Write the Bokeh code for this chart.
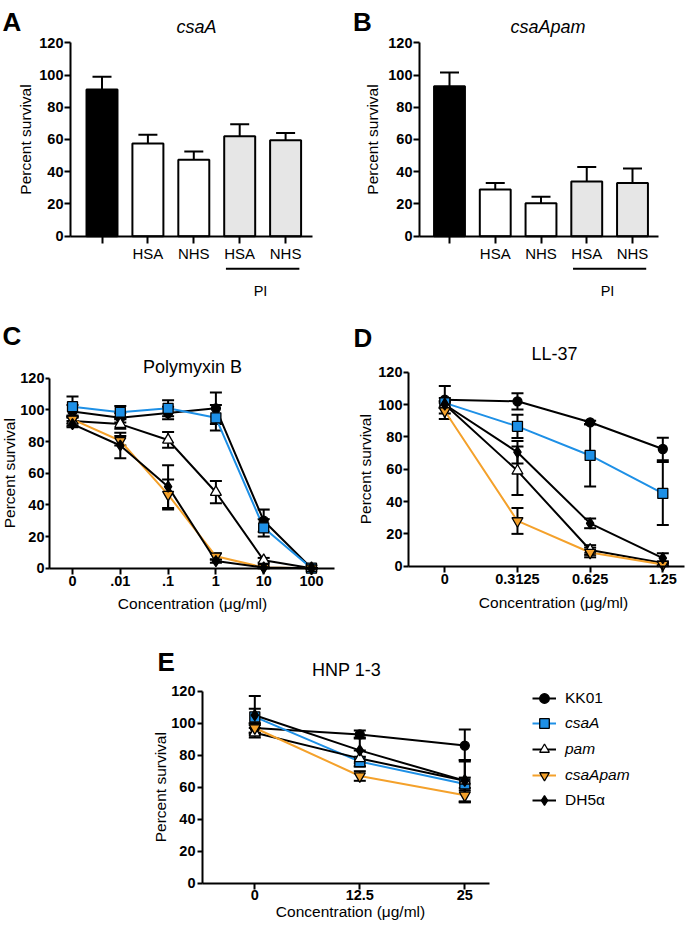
from bokeh.plotting import figure
from bokeh.models import (Range1d, FixedTicker, Label, Whisker, TeeHead,
                          ColumnDataSource, Legend, LegendItem)
from bokeh.layouts import column, row
from bokeh.embed import file_html
from bokeh.resources import INLINE

FONT = "Liberation Sans"
BLUE = "#1E90E6"
ORANGE = "#F4A12B"
PI_GRAY = "#E6E6E6"

# ---------------- data ----------------
y_ticks = [0, 20, 40, 60, 80, 100, 120]

# Panels A / B (bar charts)
bar_labels = ["", "HSA", "NHS", "HSA", "NHS"]
bar_fills = ["black", "white", "white", PI_GRAY, PI_GRAY]
pi_bars = [3, 4]
csaA_mean = [91, 57.5, 47.5, 62, 59.5]
csaA_sd = [8, 5.5, 5, 7.5, 4.5]
csaApam_mean = [93, 29, 20.5, 34, 33]
csaApam_sd = [8.5, 4, 4, 9, 9]

# strains (legend)
strains = ["KK01", "csaA", "pam", "csaApam", "DH5α"]
strain_line = ["black", BLUE, "black", ORANGE, "black"]
strain_marker = ["circle", "square", "triangle", "inverted_triangle", "diamond"]
strain_fill = ["black", BLUE, "white", ORANGE, "black"]
strain_size = [9, 10, 11, 11, 11]
strain_italic = [False, True, True, True, False]

# Panel C: Polymyxin B
pmb_conc = ["0", ".01", ".1", "1", "10", "100"]
pmb_KK01 = [99, 95, 98, 101, 30, 0]
pmb_KK01_sd = [4, 3, 4, 10, 7, 0]
pmb_csaA = [102, 98.5, 101, 95, 25.5, 0]
pmb_csaA_sd = [6.5, 4, 5, 8, 5.5, 0]
pmb_pam = [93, 91, 81, 48, 5, 0]
pmb_pam_sd = [3, 3, 5, 7, 1.5, 0]
pmb_csaApam = [94, 80.5, 46.5, 7.5, 0.5, 0]
pmb_csaApam_sd = [2.5, 3, 9.5, 2, 0.5, 0]
pmb_DH5a = [91, 77.5, 51.5, 4.5, 0.5, 0]
pmb_DH5a_sd = [2, 8, 13.5, 1, 0.5, 0]

# Panel D: LL-37
ll37_conc = ["0", "0.3125", "0.625", "1.25"]
ll37_KK01 = [103, 102, 89, 72.5]
ll37_KK01_sd = [8.5, 5, 1, 7]
ll37_csaA = [101, 86.5, 68.5, 45]
ll37_csaA_sd = [3, 7.2, 19.2, 19.5]
ll37_pam = [100, 59, 10, 2]
ll37_pam_sd = [2, 15, 3, 1]
ll37_csaApam = [96, 28, 8.5, 1]
ll37_csaApam_sd = [5, 8, 3, 1]
ll37_DH5a = [100, 70.5, 26.5, 5]
ll37_DH5a_sd = [2, 7, 3, 3]

# Panel E: HNP 1-3
hnp_conc = ["0", "12.5", "25"]
hnp_KK01 = [97, 93, 86]
hnp_KK01_sd = [3, 2.5, 10]
hnp_csaA = [104, 76, 62]
hnp_csaA_sd = [5, 3, 4]
hnp_pam = [94, 78, 64]
hnp_pam_sd = [3, 5, 13]
hnp_csaApam = [97, 67, 55]
hnp_csaApam_sd = [3, 3, 4.5]
hnp_DH5a = [105, 83, 64]
hnp_DH5a_sd = [12, 8, 13]


# ---------------- helpers ----------------
def make_panel(ox, oy, W, H, FL, FR, x0, dx, Y0, ky, labels, x_bold, x_size,
               ytick_out, ystandoff, xtick_out, xstandoff):
    """Frame covers the whole figure; both axes are placed with fixed_location."""
    xr = ((ox - x0) / dx, (ox + W - x0) / dx)
    yr = ((Y0 - (oy + H)) / ky, (Y0 - oy) / ky)
    p = figure(width=W, height=H, x_range=Range1d(*xr), y_range=Range1d(*yr),
               output_backend="svg", toolbar_location=None, title=None,
               min_border_left=0, min_border_right=0,
               min_border_top=0, min_border_bottom=0)
    p.grid.visible = False
    p.outline_line_color = None
    x_axis_pos = (FL - x0) / dx
    x_axis_end = (FR - x0) / dx

    yax = p.yaxis[0]
    yax.fixed_location = x_axis_pos
    yax.bounds = (0, 120)
    yax.ticker = FixedTicker(ticks=y_ticks)
    yax.axis_line_width = 2
    yax.axis_line_color = "black"
    yax.major_tick_line_width = 2
    yax.major_tick_out = ytick_out
    yax.major_tick_in = 0
    yax.minor_tick_line_color = None
    yax.major_label_standoff = ystandoff
    yax.major_label_text_font = FONT
    yax.major_label_text_font_size = "14.5px"
    yax.major_label_text_font_style = "bold"
    yax.major_label_text_color = "black"

    xax = p.xaxis[0]
    xax.fixed_location = 0
    xax.bounds = (x_axis_pos, x_axis_end)
    xax.ticker = FixedTicker(ticks=list(range(len(labels))))
    xax.major_label_overrides = {i: t for i, t in enumerate(labels)}
    xax.axis_line_width = 2
    xax.axis_line_color = "black"
    xax.major_tick_line_width = 2
    xax.major_tick_out = xtick_out
    xax.major_tick_in = 0
    xax.minor_tick_line_color = None
    xax.major_label_standoff = xstandoff
    xax.major_label_text_font = FONT
    xax.major_label_text_font_size = x_size
    xax.major_label_text_font_style = "bold" if x_bold else "normal"
    xax.major_label_text_color = "black"

    def conv(rx, ry):
        return (rx - x0) / dx, (Y0 - ry) / ky
    return p, conv


def add_text(p, conv, rx, ry, text, size, style="normal", align="center",
             baseline="alphabetic"):
    x, y = conv(rx, ry)
    p.add_layout(Label(x=x, y=y, text=text, text_font=FONT, text_font_size=size,
                       text_font_style=style, text_align=align,
                       text_baseline=baseline, text_color="black"))


def add_ylabel(p, conv, rx):
    x, _ = conv(rx, 0)
    p.add_layout(Label(x=x, y=60, text="Percent survival", text_font=FONT,
                       text_font_size="15.5px", text_align="center",
                       text_baseline="middle", angle=90, angle_units="deg",
                       text_color="black"))


def bar_panel(p, conv, means, sds, title, title_rx, letter, letter_rx, ylab_rx,
              pi_rx):
    xs = list(range(len(means)))
    src = ColumnDataSource(dict(x=xs, lo=means,
                                hi=[m + s for m, s in zip(means, sds)]))
    p.add_layout(Whisker(source=src, base="x", lower="lo", upper="hi",
                         dimension="height", line_color="black", line_width=2,
                         upper_head=TeeHead(size=19, line_width=2, line_color="black"),
                         lower_head=None, level="underlay"))
    p.vbar(x=xs, top=means, bottom=0, width=0.675, fill_color=bar_fills,
           line_color="black", line_width=2)
    # PI bracket under the last two bars
    _, y_line = conv(0, 268.3)
    p.line(x=[pi_bars[0] - 0.3, pi_bars[-1] + 0.3], y=[y_line, y_line],
           line_color="black", line_width=2)
    add_text(p, conv, pi_rx, 290, "PI", "14.5px")
    add_text(p, conv, title_rx, 26.5, title, "18px", style="italic")
    add_text(p, conv, letter_rx, 21.5, letter, "26px", style="bold", align="left")
    add_ylabel(p, conv, ylab_rx)


def draw_series(p, n, series, sds):
    xs = list(range(n))
    lines, marks = [], []
    for i in range(len(series)):
        lines.append(p.line(xs, series[i], line_color=strain_line[i], line_width=2))
    for i in range(len(series)):
        src = ColumnDataSource(dict(
            x=xs,
            lo=[m - s for m, s in zip(series[i], sds[i])],
            hi=[m + s for m, s in zip(series[i], sds[i])]))
        p.add_layout(Whisker(source=src, base="x", lower="lo", upper="hi",
                             dimension="height", line_color="black", line_width=2,
                             upper_head=TeeHead(size=12, line_width=2, line_color="black"),
                             lower_head=TeeHead(size=12, line_width=2, line_color="black"),
                             level="underlay"))
    for i in range(len(series)):
        marks.append(p.scatter(xs, series[i], marker=strain_marker[i],
                               size=strain_size[i], fill_color=strain_fill[i],
                               line_color="black", line_width=1.3))
    return lines, marks


# ---------------- Panel A ----------------
pA, cA = make_panel(0, 0, 350, 308, 70, 312, 101.5, 45.9, 235.7, 1.6117,
                    bar_labels, False, "15px", 6, 1, 7, 2)
bar_panel(pA, cA, csaA_mean, csaA_sd, "csaA", 196, "A", 2, 25, 260)

# ---------------- Panel B ----------------
pB, cB = make_panel(350, 0, 350, 308, 419, 658, 449, 45.75, 235.7, 1.6117,
                    bar_labels, False, "15px", 6, 1, 7, 2)
bar_panel(pB, cB, csaApam_mean, csaApam_sd, "csaApam", 547.5, "B", 352.5, 371.5, 607)

# ---------------- Panel C ----------------
pC, cC = make_panel(0, 308, 350, 312, 49, 334, 72, 47.8, 567.7, 1.5833,
                    pmb_conc, True, "14.5px", 4, 1, 6, 2)
draw_series(pC, len(pmb_conc),
            [pmb_KK01, pmb_csaA, pmb_pam, pmb_csaApam, pmb_DH5a],
            [pmb_KK01_sd, pmb_csaA_sd, pmb_pam_sd, pmb_csaApam_sd, pmb_DH5a_sd])
add_text(pC, cC, 192, 366, "Polymyxin B", "18px")
add_text(pC, cC, 2, 335, "C", "26px", style="bold", align="left")
add_text(pC, cC, 192, 603, "Concentration (μg/ml)", "15.5px", baseline="middle")
add_ylabel(pC, cC, 9)

# ---------------- Panel D ----------------
pD, cD = make_panel(350, 308, 350, 312, 408, 684, 444.3, 72.67, 565.7, 1.6167,
                    ll37_conc, True, "14.5px", 5, 1, 6, 2)
draw_series(pD, len(ll37_conc),
            [ll37_KK01, ll37_csaA, ll37_pam, ll37_csaApam, ll37_DH5a],
            [ll37_KK01_sd, ll37_csaA_sd, ll37_pam_sd, ll37_csaApam_sd, ll37_DH5a_sd])
add_text(pD, cD, 554, 353.3, "LL-37", "18px")
add_text(pD, cD, 353, 337.7, "D", "26px", style="bold", align="left")
add_text(pD, cD, 553, 602, "Concentration (μg/ml)", "15.5px", baseline="middle")
add_ylabel(pD, cD, 365)

# ---------------- Panel E ----------------
E_OY, E_H = 620, 304
pE, cE = make_panel(0, E_OY, 700, E_H, 202, 489, 254.3, 105, 882.7, 1.6,
                    hnp_conc, True, "14.5px", 5, 2, 6, 1)
lines_E, marks_E = draw_series(
    pE, len(hnp_conc),
    [hnp_KK01, hnp_csaA, hnp_pam, hnp_csaApam, hnp_DH5a],
    [hnp_KK01_sd, hnp_csaA_sd, hnp_pam_sd, hnp_csaApam_sd, hnp_DH5a_sd])
add_text(pE, cE, 346, 669, "HNP 1-3", "18px")
add_text(pE, cE, 157, 661.5, "E", "26px", style="bold", align="left")
add_text(pE, cE, 350, 911, "Concentration (μg/ml)", "15.5px", baseline="middle")
add_ylabel(pE, cE, 160)

# legend (one Legend per entry so that italics can differ)
for i, name in enumerate(strains):
    cy = 697.5 + 25.7 * i
    leg = Legend(items=[LegendItem(label=name, renderers=[lines_E[i], marks_E[i]])],
                 location=(532, E_OY + E_H - (cy + 12)),
                 padding=0, margin=0, spacing=0,
                 border_line_color=None, background_fill_alpha=0,
                 glyph_width=24, glyph_height=24, label_height=24,
                 label_standoff=9, label_text_font=FONT,
                 label_text_font_size="15.5px",
                 label_text_font_style="italic" if strain_italic[i] else "normal",
                 label_text_color="black")
    pE.add_layout(leg)

layout = column(row(pA, pB), row(pC, pD), pE)
open("out.html", "w").write(file_html(layout, INLINE))
